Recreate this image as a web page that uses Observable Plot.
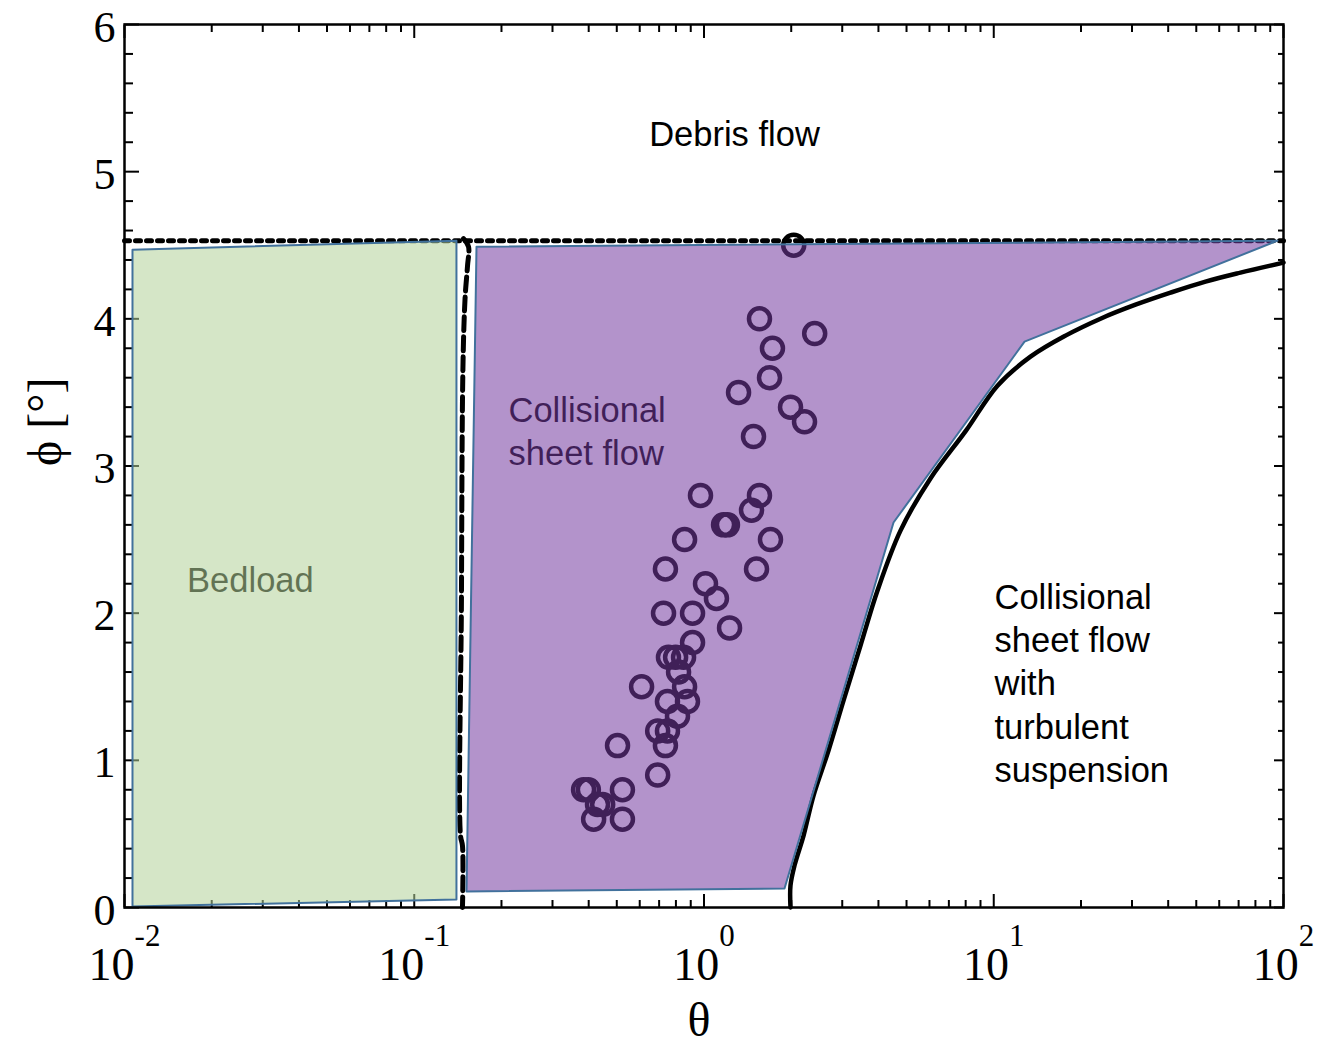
<!DOCTYPE html>
<html><head><meta charset="utf-8">
<script src="https://cdn.jsdelivr.net/npm/d3@7"></script>
<script src="https://cdn.jsdelivr.net/npm/@observablehq/plot@0.6"></script>
<style>body{margin:0;background:#fff} #chart svg{display:block;background:#fff}</style>
</head><body><div id="chart"></div>
<script>
// ---- data ----
const sampleTheta = [2.04,1.554,2.41,1.723,1.683,1.316,1.989,2.223,1.482,
  0.9725,1.554,1.459,1.168,1.205,0.857,1.696,0.736,1.518,1.012,1.104,
  0.725,0.913,1.225,0.913,0.754,0.798,0.850,0.817,0.609,0.857,
  0.877,0.748,0.810,0.692,0.748,0.736,0.503,0.692,
  0.384,0.399,0.523,0.429,0.447,0.416,0.523];
const samplePhi = [4.50,4.0,3.9,3.8,3.6,3.5,3.4,3.3,3.2,
  2.8,2.8,2.7,2.6,2.6,2.5,2.5,2.3,2.3,2.2,2.1,
  2.0,2.0,1.9,1.8,1.7,1.7,1.7,1.6,1.5,1.5,
  1.4,1.4,1.3,1.2,1.2,1.1,1.1,0.9,
  0.8,0.8,0.8,0.7,0.7,0.6,0.6];

const bedloadTheta = [0.010656,0.13985,0.13985,0.010656,0.010656];
const bedloadPhi   = [4.470,4.531,0.054,0.007,4.470];

const sheetTheta = [0.1640,95.34,12.77,4.509,1.896,0.1515,0.1640];
const sheetPhi   = [4.490,4.531,3.845,2.616,0.129,0.109,4.490];

const debrisLimitTheta = [0.01,100];
const debrisLimitPhi   = [4.53,4.53];

const bedloadLimitTheta = [0.1479,0.1539,0.1527,0.1503,0.1491,0.1479,0.1467,0.1455,0.1444,0.1467,0.1467];
const bedloadLimitPhi   = [4.545,4.49,4.36,4.19,4.06,3.85,3.44,2.09,0.49,0.42,0.0];

const suspLimitTheta = [1.9884,1.9884,2.0527,2.2059,2.3877,2.6895,3.030,3.4681,3.9705,4.766,6.04,8.02,10.30,13.39,17.69,23.36,30.85,40.74,53.8,71.05,100];
const suspLimitPhi   = [0.0,0.149,0.285,0.489,0.761,1.067,1.406,1.780,2.154,2.561,2.914,3.240,3.546,3.743,3.886,4.001,4.096,4.178,4.253,4.314,4.382];

const xMajorTicks = [0.01,0.1,1,10,100];
const xTickExponents = ["-2","-1","0","1","2"];
const yMajorTicks = [0,1,2,3,4,5,6];

const centeredLabels = [{theta:1.274, phi:5.27, text:"Debris flow"}];
const leftLabels = [{theta:10.06, phi:1.535, text:"Collisional\nsheet flow\nwith\nturbulent\nsuspension"}];
const coveredCentered = [{theta:0.0272, phi:2.24, text:"Bedload"}];
const coveredLeft = [{theta:0.2115, phi:3.244, text:"Collisional\nsheet flow"}];

// ---- build ----
const pts = (xs, ys) => xs.map((x, i) => ({theta: x, phi: ys[i]}));
const minorX = [];
for (let e = -2; e < 2; e++) for (let m = 2; m <= 9; m++) minorX.push(+(m * Math.pow(10, e)).toPrecision(3));
const minorY = d3.range(0, 30).map(i => +(i * 0.2).toFixed(1)).filter(v => v % 1 !== 0);
const blank = () => "";
const tickOpts = {tickFormat: blank, label: null, strokeWidth: 2, stroke: "black"};
const serif = "'Liberation Serif','Times New Roman',serif";
const sans = "'Liberation Sans',Arial,sans-serif";
const labelFont = {fontSize: 34.5, fontFamily: sans, fill: "black", lineHeight: 1.25, lineAnchor: "middle"};

const chart = Plot.plot({
  width: 1322, height: 1047,
  marginLeft: 124, marginRight: 39, marginTop: 24, marginBottom: 140,
  x: {type: "log", domain: [0.01, 100]},
  y: {domain: [0, 6]},
  style: {background: "white", color: "black"},
  marks: [
    Plot.axisX({anchor: "bottom", ticks: minorX, tickSize: -7, ...tickOpts}),
    Plot.axisX({anchor: "top", ticks: minorX, tickSize: -7, ...tickOpts}),
    Plot.axisX({anchor: "bottom", ticks: xMajorTicks, tickSize: -13, ...tickOpts}),
    Plot.axisX({anchor: "top", ticks: xMajorTicks, tickSize: -13, ...tickOpts}),
    Plot.axisY({anchor: "left", ticks: minorY, tickSize: -9, ...tickOpts}),
    Plot.axisY({anchor: "right", ticks: minorY, tickSize: -6, ...tickOpts}),
    Plot.axisY({anchor: "left", ticks: yMajorTicks, tickSize: -15, ...tickOpts}),
    Plot.axisY({anchor: "right", ticks: yMajorTicks, tickSize: -10, ...tickOpts}),

    Plot.line(pts(debrisLimitTheta, debrisLimitPhi), {x: "theta", y: "phi", stroke: "black", strokeWidth: 5, strokeDasharray: "5,6"}),
    Plot.line(pts(bedloadLimitTheta, bedloadLimitPhi), {x: "theta", y: "phi", stroke: "black", strokeWidth: 5, strokeDasharray: "14,6", curve: "catmull-rom"}),
    Plot.line(pts(suspLimitTheta, suspLimitPhi), {x: "theta", y: "phi", stroke: "black", strokeWidth: 4.5, curve: "catmull-rom"}),

    Plot.dot(pts(sampleTheta, samplePhi), {x: "theta", y: "phi", r: 10.5, stroke: "black", strokeWidth: 4.5, fill: "none"}),

    Plot.text(coveredCentered, {x: "theta", y: "phi", text: "text", textAnchor: "middle", ...labelFont}),
    Plot.text(coveredLeft, {x: "theta", y: "phi", text: "text", textAnchor: "start", ...labelFont}),

    Plot.line(pts(bedloadTheta, bedloadPhi), {x: "theta", y: "phi", fill: "#b3d299", fillOpacity: 0.55, stroke: "#41719c", strokeWidth: 2}),
    Plot.line(pts(sheetTheta, sheetPhi), {x: "theta", y: "phi", fill: "#753aa0", fillOpacity: 0.55, stroke: "#41719c", strokeWidth: 2}),

    Plot.text(centeredLabels, {x: "theta", y: "phi", text: "text", textAnchor: "middle", ...labelFont}),
    Plot.text(leftLabels, {x: "theta", y: "phi", text: "text", textAnchor: "start", ...labelFont}),

    Plot.frame({stroke: "black", strokeWidth: 2.5}),

    Plot.axisY({anchor: "left", ticks: yMajorTicks, tickSize: 0, tickPadding: 9, fontSize: 44, fontFamily: serif, label: null, dy: 3,
      tickFormat: d => String(d)}),
    Plot.axisX({anchor: "bottom", ticks: xMajorTicks, tickSize: 0, tickPadding: 40, fontSize: 46, fontFamily: serif, label: null,
      tickFormat: d => "E" + xTickExponents[xMajorTicks.indexOf(d)]}),
    Plot.text(["θ"], {frameAnchor: "bottom", text: d => d, dy: 113, dx: -5, fontSize: 48, fontFamily: serif, lineAnchor: "middle"}),
    Plot.text(["ϕ [°]"], {frameAnchor: "left", text: d => d, dx: -79, rotate: -90, fontSize: 48, fontFamily: serif, lineAnchor: "middle"})
  ]
});

// superscript exponents on x tick labels
const ns = "http://www.w3.org/2000/svg";
chart.querySelectorAll('g[aria-label="x-axis tick label"] text').forEach(t => {
  const s = t.textContent;
  if (!s.startsWith("E")) return;
  t.textContent = "";
  const base = document.createElementNS(ns, "tspan");
  base.textContent = "10";
  const sup = document.createElementNS(ns, "tspan");
  sup.textContent = s.slice(1);
  sup.setAttribute("font-size", "31");
  sup.setAttribute("dy", "-34");
  t.appendChild(base); t.appendChild(sup);
});
document.getElementById("chart").appendChild(chart);
</script></body></html>
